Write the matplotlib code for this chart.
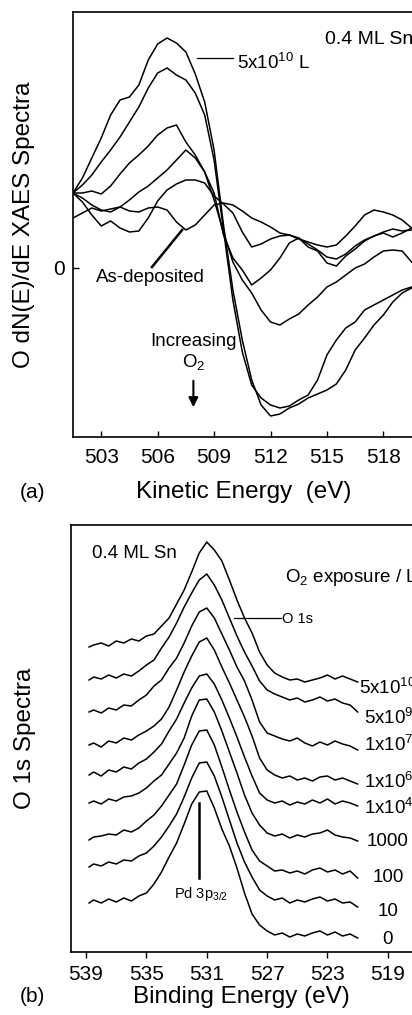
import numpy as np
import matplotlib
matplotlib.use('Agg')
import matplotlib.pyplot as plt

plt.rcParams['font.family'] = ['Liberation Sans', 'DejaVu Sans']
plt.rcParams['mathtext.fontset'] = 'custom'
plt.rcParams['mathtext.rm'] = 'Liberation Sans'
plt.rcParams['mathtext.it'] = 'Liberation Sans:italic'

# ---- (a) O KLL XAES derivative spectra ----
ke = np.arange(501.5, 519.51, 0.5)
xaes_5e10 = [75, 90, 110, 130, 153, 168, 171, 183, 208, 224, 230, 225, 216, 194, 166, 118, 43, -22, -72,
             -112, -137, -148, -146, -140, -136, -130, -126, -122, -116, -102, -82, -70, -57, -47, -34, -25, -20]
xaes_b = [75, 83, 93, 106, 118, 131, 146, 161, 180, 195, 200, 193, 188, 175, 153, 108, 38, -32, -84,
          -117, -130, -137, -140, -138, -132, -127, -112, -87, -72, -60, -54, -42, -37, -32, -27, -22, -19]
xaes_c = [75, 75, 77, 74, 82, 94, 105, 113, 122, 133, 140, 143, 126, 113, 96, 68, 36, 6, -12,
          -25, -42, -54, -57, -51, -46, -37, -29, -19, -14, -7, 0, 4, 11, 17, 18, 17, 6]
xaes_d = [75, 70, 63, 58, 56, 61, 68, 76, 82, 90, 98, 108, 118, 110, 96, 75, 33, 10, -2,
          -17, -10, -2, 10, 25, 30, 24, 18, 11, 9, 14, 22, 28, 32, 36, 39, 37, 38]
xaes_f = [75, 66, 53, 42, 47, 40, 36, 37, 50, 67, 78, 84, 88, 88, 85, 72, 64, 55, 36,
          21, 24, 29, 32, 33, 30, 21, 17, 5, 2, 12, 19, 27, 32, 35, 31, 35, 40]
xaes_asdep = [50, 55, 60, 57, 59, 61, 57, 56, 60, 61, 58, 46, 38, 43, 53, 63, 65, 63, 57,
              50, 46, 41, 35, 33, 29, 26, 23, 21, 23, 32, 42, 53, 58, 56, 53, 48, 40]
ke_ticks = [503, 506, 509, 512, 515, 518]

# ---- (b) O 1s XPS spectra ----
be = np.concatenate([[538.8], np.arange(538.5, 520.9, -0.5)])
exposures = ['5x10$^{10}$', '5x10$^{9}$', '1x10$^{7}$', '1x10$^{6}$', '1x10$^{4}$', '1000', '100', '10', '0']
offsets = [305, 272, 240, 207, 177, 149, 112, 85, 49]
o1s = [
    [0, 2, 4, 1, 6, 4, 8, 6, 11, 13, 21, 29, 43, 57, 75, 94, 105, 97, 86, 67, 47, 29, 14, -5, -18,
     -26, -30, -33, -32, -35, -33, -31, -28, -32, -29, -32, -35],
    [0, 3, 1, 5, 2, 6, 4, 9, 15, 20, 32, 43, 57, 73, 87, 100, 106, 95, 80, 62, 44, 28, 14, -1, -10,
     -14, -17, -20, -18, -22, -20, -17, -21, -19, -23, -25, -32],
    [0, 2, -1, 4, 2, 7, 6, 12, 17, 26, 32, 44, 54, 69, 86, 100, 104, 94, 78, 62, 45, 31, 12, -10, -21,
     -24, -27, -29, -26, -31, -34, -30, -33, -29, -32, -34, -38],
    [0, 2, -2, 4, 2, 7, 5, 10, 14, 19, 26, 38, 55, 73, 89, 103, 107, 95, 78, 62, 45, 28, 9, -13, -25,
     -30, -33, -31, -35, -33, -36, -32, -31, -35, -33, -36, -39],
    [0, 3, -1, 5, 3, 8, 6, 12, 16, 23, 31, 44, 56, 72, 87, 99, 101, 91, 75, 57, 38, 18, -1, -18, -25,
     -28, -26, -30, -27, -29, -25, -28, -24, -29, -26, -28, -31],
    [0, 2, -1, 4, 2, 6, 7, 10, 15, 22, 28, 39, 50, 65, 87, 103, 104, 91, 72, 51, 30, 8, -10, -22, -30,
     -33, -31, -35, -32, -34, -31, -30, -27, -32, -34, -35, -38],
    [0, 3, 4, 6, 5, 10, 8, 12, 19, 25, 34, 45, 56, 75, 95, 109, 110, 95, 73, 50, 28, 8, -10, -21, -26,
     -31, -30, -33, -31, -34, -30, -28, -32, -30, -34, -31, -38],
    [0, 3, 1, 5, 3, 7, 6, 11, 14, 21, 30, 41, 53, 70, 89, 104, 105, 91, 70, 47, 24, 5, -10, -23, -29,
     -33, -31, -36, -33, -35, -32, -30, -34, -32, -36, -35, -40],
    [0, 3, 0, 4, 1, 5, 2, 7, 10, 19, 31, 46, 60, 79, 99, 111, 112, 95, 74, 57, 35, 10, -11, -22, -28,
     -32, -30, -34, -31, -33, -30, -28, -32, -29, -33, -31, -35],
]
be_ticks = [539, 535, 531, 527, 523, 519]

W, H = 412, 1015
fig = plt.figure(figsize=(W / 100, H / 100), dpi=100)

def frac(l, t, r, b):
    return [l / W, 1 - b / H, (r - l) / W, (b - t) / H]

# panel (a)
ax1 = fig.add_axes(frac(73, 12, 421, 437))
for y in [xaes_5e10, xaes_b, xaes_c, xaes_d, xaes_f, xaes_asdep]:
    ax1.plot(ke, y, color='black', lw=1.1)
ax1.set_xlim(501.5, 520)
ax1.set_ylim(-169, 256)
ax1.set_xticks(ke_ticks)
ax1.set_yticks([0])
ax1.tick_params(direction='in', length=4, width=1, labelsize=15, pad=8)
ax1.tick_params(axis='y', pad=6)
for s in ax1.spines.values():
    s.set_linewidth(1.2)
ax1.set_xlabel('Kinetic Energy  (eV)', fontsize=17.5)
ax1.xaxis.set_label_coords(0.49, -0.13)
ax1.xaxis.label.set_va('center')
ax1.set_ylabel('O dN(E)/dE XAES Spectra', fontsize=17.5)
ax1.yaxis.set_label_coords(-0.11, 0.5)

ax1.text(514.9, 228, '0.4 ML Sn', fontsize=14, va='center')
ax1.plot([508.1, 510.0], [210, 210], color='black', lw=0.9)
ax1.text(510.2, 205, '5x10$^{10}$ L', fontsize=13.5, va='center')
ax1.plot([505.7, 507.3], [1, 38], color='black', lw=1.8)
ax1.text(505.6, -10, 'As-deposited', fontsize=13.5, ha='center', va='center')
ax1.text(507.9, -74, 'Increasing', fontsize=13.5, ha='center', va='center')
ax1.text(507.9, -94, 'O$_2$', fontsize=13.5, ha='center', va='center')
ax1.annotate('', xy=(507.9, -142), xytext=(507.9, -110),
             arrowprops=dict(arrowstyle='-|>', color='black', lw=1.5, mutation_scale=14))

# panel (b)
ax2 = fig.add_axes(frac(71, 525, 418, 952))
for off, y in zip(offsets, o1s):
    ax2.plot(be, off + np.array(y), color='black', lw=1.1)
ax2.set_xlim(540, 517)
ax2.set_ylim(0, 427)
ax2.set_xticks(be_ticks)
ax2.set_yticks([])
ax2.tick_params(direction='out', length=4, width=1, labelsize=15, pad=5)
for s in ax2.spines.values():
    s.set_linewidth(1.2)
ax2.set_xlabel('Binding Energy (eV)', fontsize=17.5)
ax2.xaxis.set_label_coords(0.49, -0.105)
ax2.xaxis.label.set_va('center')
ax2.set_ylabel('O 1s Spectra', fontsize=17.5)
ax2.yaxis.set_label_coords(-0.10, 0.5)

# exposure labels at the right end of each trace
label_x = [520.9, 520.6, 520.6, 520.6, 520.6, 520.4, 520.0, 519.7, 519.4]
label_y = [264, 234, 207, 170, 144, 110, 74, 40, 12]
for lx, ly, lab in zip(label_x, label_y, exposures):
    ax2.text(lx, ly, lab, fontsize=13.5, va='center', ha='left')

ax2.text(538.6, 399, '0.4 ML Sn', fontsize=13.5, va='center')
ax2.text(525.8, 375, 'O$_2$ exposure / L', fontsize=13.5, va='center')
ax2.plot([529.2, 526.1], [334, 334], color='black', lw=0.9)
ax2.text(526.0, 333, 'O 1s', fontsize=10.5, va='center')
ax2.plot([531.5, 531.5], [74, 149], color='black', lw=1.8)
ax2.text(531.4, 58, 'Pd 3p$_{3/2}$', fontsize=10.5, ha='center', va='center')

fig.text(20 / W, 1 - 492 / H, '(a)', fontsize=15, va='center')
fig.text(20 / W, 1 - 997 / H, '(b)', fontsize=15, va='center')

fig.savefig('out.png', dpi=100)
